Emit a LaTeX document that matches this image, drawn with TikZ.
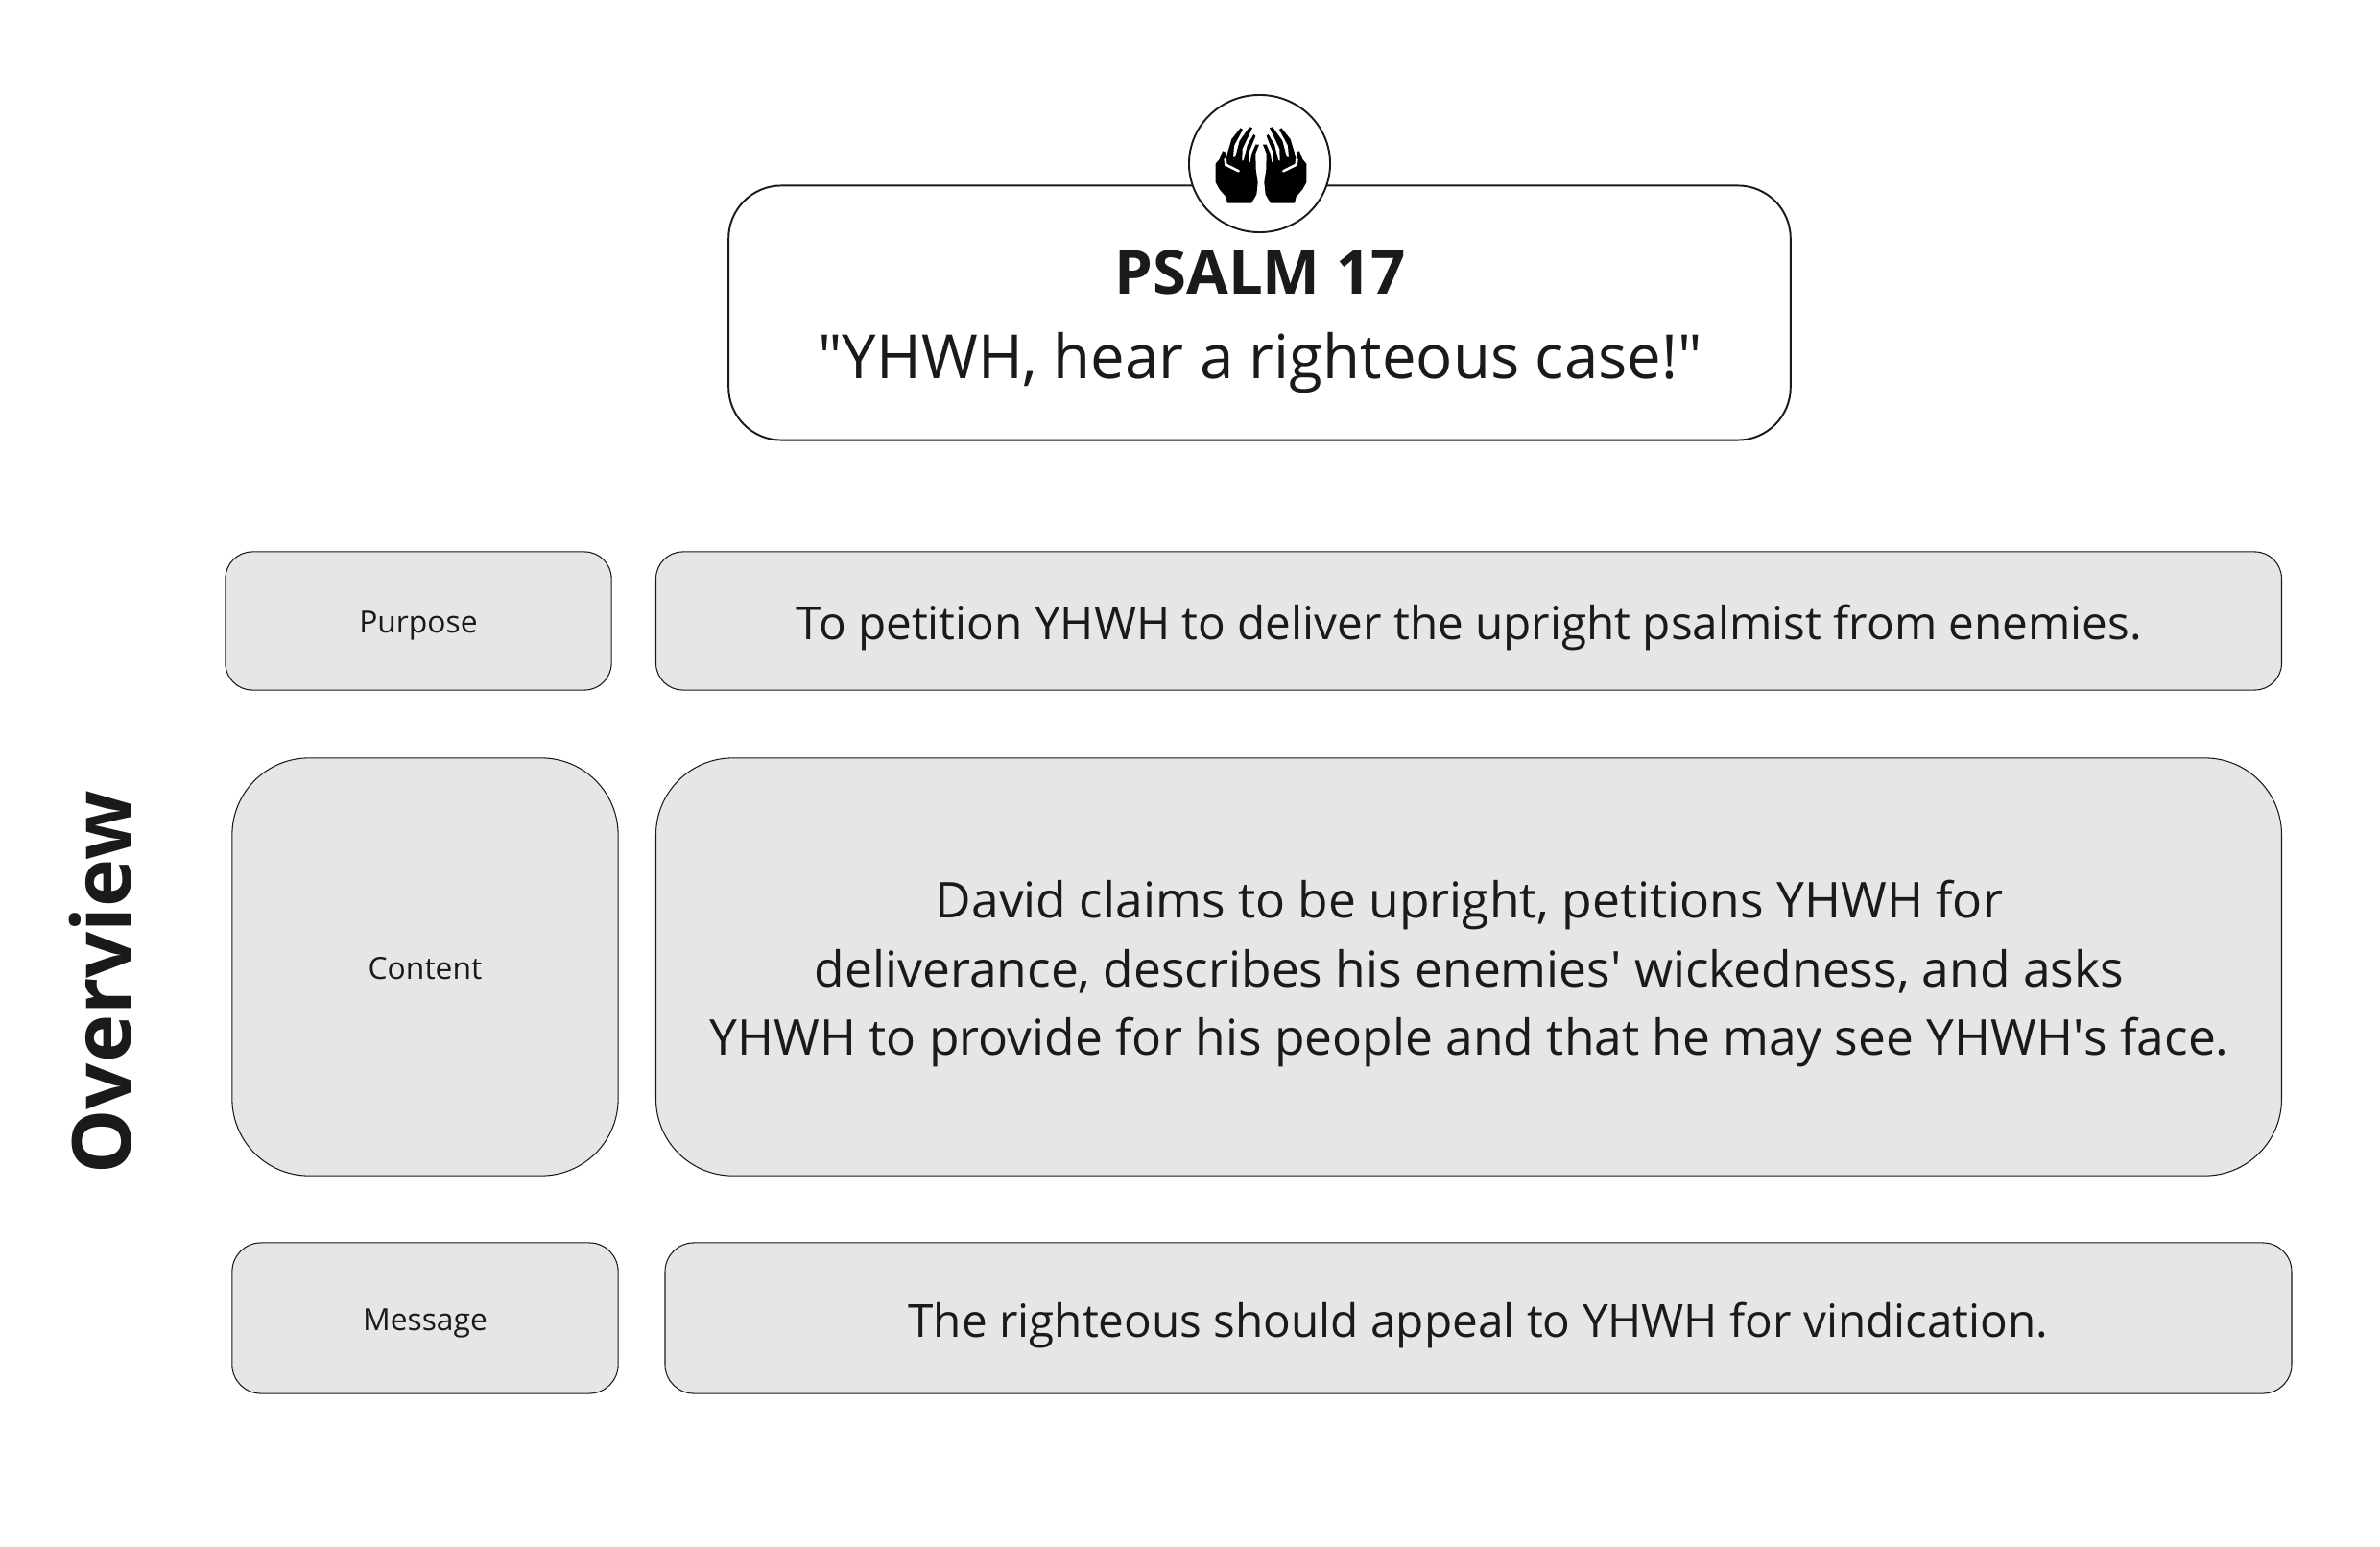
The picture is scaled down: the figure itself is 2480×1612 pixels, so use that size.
\documentclass[tikz,border=0pt]{standalone}
\usepackage{fontspec}
\setmainfont{Open Sans}
\usetikzlibrary{positioning,shapes.geometric}
\definecolor{boxgray}{RGB}{230, 230, 230}
\definecolor{inkgray}{RGB}{26, 26, 26}
\tikzset{
  panel/.style={draw=inkgray, line width=0.3pt, fill=boxgray, inner sep=0pt},
  tagtext/.style={text=inkgray, inner sep=0pt, font=\fontsize{9.05}{12}\selectfont},
  rowtext/.style={text=inkgray, inner sep=0pt, align=center, font=\fontsize{13.55}{20.3}\selectfont}
}
\begin{document}
\begin{tikzpicture}[x=0.01cm, y=-0.01cm]
  \useasboundingbox (0,0) rectangle (2480,1612);
  \fill[white] (0,0) rectangle (2480,1612);
  % title
  \node[draw=inkgray, line width=0.55pt, rounded corners=0.55cm, minimum width=11.06cm, minimum height=2.65cm, inner sep=0pt] (title) at (1312.5,326) {};
  \node[text=inkgray, font=\fontsize{18.05}{24}\selectfont\bfseries] (psalm) at (1313,284) {PSALM 17};
  \node[text=inkgray, font=\fontsize{18.05}{24}\selectfont] (motto) at (1313,378) {\textquotedbl YHWH, hear a righteous case!\textquotedbl};
  % icon
  \node[ellipse, draw=inkgray, line width=0.55pt, fill=white, minimum width=1.47cm, minimum height=1.43cm, inner sep=0pt] (icon) at (1312.5,170.5) {};
  \foreach \s in {1,-1} {
    \begin{scope}[shift={(1314,80)}, xscale=\s*0.3333, yscale=0.3333]
      \fill[black] (-105,395) -- (-30,395) -- (-14,368) -- (-10,330) -- (-16,290) -- (-17,240) -- (-6,212)
        -- (-17,212) -- (-29,240) -- (-34,268) -- (-39,266) -- (-36,232) -- (-17,185) -- (-23,180)
        -- (-42,212) -- (-54,260) -- (-59,264) -- (-58,225) -- (-27,160) -- (-36,157) -- (-67,200)
        -- (-80,250) -- (-87,252) -- (-84,215) -- (-57,165) -- (-64,160) -- (-92,195) -- (-104,235)
        -- (-110,262) -- (-112,235) -- (-120,232) -- (-130,258) -- (-142,272) -- (-142,330)
        -- (-130,352) -- (-110,375) -- cycle;
      \draw[white, line width=0.75pt, line cap=round] (-112,258) -- (-110,275) -- (-70,295);
    \end{scope}
  }
  % rows
  \node[panel, rounded corners=0.28cm, minimum width=4.02cm, minimum height=1.44cm] (purpose) at (436,647) {};
  \node[panel, rounded corners=0.28cm, minimum width=16.93cm, minimum height=1.44cm] (purposebox) at (1530.5,647) {};
  \node[panel, rounded corners=0.8cm, minimum width=4.02cm, minimum height=4.35cm] (content) at (443,1007.5) {};
  \node[panel, rounded corners=0.8cm, minimum width=16.93cm, minimum height=4.35cm] (contentbox) at (1530.5,1007.5) {};
  \node[panel, rounded corners=0.3cm, minimum width=4.02cm, minimum height=1.57cm] (message) at (443,1373.5) {};
  \node[panel, rounded corners=0.3cm, minimum width=16.94cm, minimum height=1.57cm] (messagebox) at (1540.5,1373.5) {};
  \node[tagtext] (purposelabel) at (436,652) {Purpose};
  \node[tagtext] (contentlabel) at (443,1009) {Content};
  \node[tagtext] (messagelabel) at (443,1379) {Message};
  \node[rowtext] (purposetext) at (1531,654) {To petition YHWH to deliver the upright psalmist from enemies.};
  \node[rowtext, font=\fontsize{14.65}{20.3}\selectfont] (contenttext) at (1531,1014.5) {David claims to be upright, petitions YHWH for\\deliverance, describes his enemies\textquotesingle{} wickedness, and asks\\YHWH to provide for his people and that he may see YHWH\textquotesingle s face.};
  \node[rowtext] (messagetext) at (1540.5,1381) {The righteous should appeal to YHWH for vindication.};
  % side label
  \node[rotate=90, text=inkgray, font=\fontsize{24.1}{30}\selectfont\bfseries] (side) at (105,1024) {Overview};
\end{tikzpicture}
\end{document}
